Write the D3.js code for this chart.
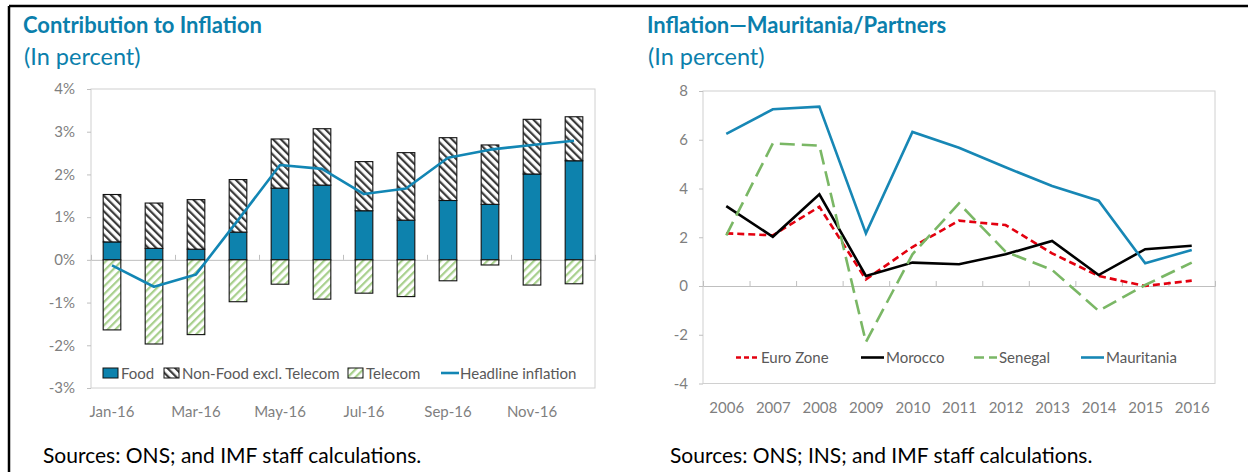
<!DOCTYPE html>
<html>
<head>
<meta charset="utf-8">
<script src="https://cdn.jsdelivr.net/npm/d3@7"></script>
<style>
  body { margin: 0; background: #fff; }
  svg { display: block; font-family: Lato, "Open Sans", sans-serif; }
</style>
</head>
<body>
<div id="chart"></div>
<script>
// left panel data (percent contributions)
var months = ["Jan-16","Feb-16","Mar-16","Apr-16","May-16","Jun-16","Jul-16","Aug-16","Sep-16","Oct-16","Nov-16","Dec-16"];
var monthLabels = ["Jan-16","Mar-16","May-16","Jul-16","Sep-16","Nov-16"];
var food     = [0.42, 0.27, 0.25, 0.65, 1.68, 1.75, 1.15, 0.93, 1.39, 1.30, 2.01, 2.32];
var nonFood  = [1.11, 1.06, 1.16, 1.23, 1.15, 1.32, 1.15, 1.58, 1.47, 1.39, 1.28, 1.03];
var telecom  = [-1.64, -1.97, -1.75, -0.98, -0.57, -0.92, -0.78, -0.86, -0.49, -0.12, -0.59, -0.56];
var headline = [-0.13, -0.63, -0.34, 0.93, 2.22, 2.13, 1.54, 1.67, 2.39, 2.58, 2.69, 2.79];
var leftTicks = [-3, -2, -1, 0, 1, 2, 3, 4];

// right panel data
var years = ["2006","2007","2008","2009","2010","2011","2012","2013","2014","2015","2016"];
var euroZone   = [2.16, 2.08, 3.25, 0.27, 1.60, 2.68, 2.50, 1.34, 0.41, 0.00, 0.22];
var morocco    = [3.28, 2.02, 3.76, 0.41, 0.96, 0.89, 1.30, 1.85, 0.45, 1.51, 1.65];
var senegal    = [2.08, 5.85, 5.76, -2.30, 1.30, 3.39, 1.41, 0.66, -1.02, 0.04, 0.96];
var mauritania = [6.24, 7.25, 7.36, 2.16, 6.32, 5.67, 4.87, 4.10, 3.50, 0.93, 1.48];
var rightTicks = [-4, -2, 0, 2, 4, 6, 8];

var blue = "#0d82ad", titleBlue = "#0b7fac", gridGray = "#d0d0d0", axisText = "#7f7f7f", legText = "#595959";

var svg = d3.select("#chart").append("svg")
  .attr("width", 1248)
  .attr("height", 472);

var defs = svg.append("defs");
function stripes(id, color, angle) {
  var p = defs.append("pattern")
    .attr("id", id)
    .attr("patternUnits", "userSpaceOnUse")
    .attr("width", 5.5).attr("height", 5.5)
    .attr("patternTransform", "rotate(" + angle + ")");
  p.append("rect").attr("width", 5.5).attr("height", 5.5).attr("fill", "#fff");
  p.append("rect").attr("width", 2.2).attr("height", 5.5).attr("fill", color);
}
stripes("hatchGray", "#3a3a3a", -45);
stripes("hatchGreen", "#a8d08d", 45);

// outer frame
svg.append("line").attr("x1", 9).attr("x2", 1248).attr("y1", 6).attr("y2", 6)
  .attr("stroke", "#000").attr("stroke-width", 2.5);
svg.append("line").attr("x1", 9).attr("x2", 9).attr("y1", 6).attr("y2", 472)
  .attr("stroke", "#000").attr("stroke-width", 2.5);

function titles(x, t, src) {
  svg.append("text").attr("x", x).attr("y", 33).text(t)
    .attr("font-size", 22).attr("font-weight", "bold").attr("fill", titleBlue);
  svg.append("text").attr("x", x + 1).attr("y", 65).text("(In percent)")
    .attr("font-size", 23.5).attr("fill", titleBlue);
  svg.append("text").attr("x", src[0]).attr("y", src[1]).text(src[2])
    .attr("font-size", 21).attr("fill", "#000");
}
titles(23, "Contribution to Inflation", [43, 463, "Sources: ONS; and IMF staff calculations."]);
titles(647, "Inflation\u2014Mauritania/Partners", [670, 463, "Sources: ONS; INS; and IMF staff calculations."]);

function styleAxis(g) {
  g.select(".domain").remove();
  g.selectAll(".tick line").attr("stroke", "#bfbfbf");
  g.selectAll(".tick text").attr("fill", axisText).attr("font-size", 15)
    .attr("font-family", "Lato, 'Open Sans', sans-serif");
}

// ---------- left chart ----------
var left = {l: 91, r: 595, t: 89, b: 388};

var xL = d3.scaleBand().domain(months).range([left.l, left.r])
  .paddingInner(0.58).paddingOuter(0.29);
var yL = d3.scaleLinear().domain([-3, 4]).range([left.b, left.t]);
var slotL = d3.scaleLinear().domain([0, months.length]).range([left.l, left.r]);

svg.append("rect")
  .attr("x", left.l).attr("y", left.t)
  .attr("width", left.r - left.l).attr("height", left.b - left.t)
  .attr("fill", "none").attr("stroke", gridGray);

svg.append("g")
  .attr("transform", "translate(" + left.l + ",0)")
  .call(d3.axisLeft(yL).tickValues(leftTicks).tickSize(4).tickPadding(12).tickFormat(function(d) { return d + "%"; }))
  .call(styleAxis);

svg.append("g")
  .attr("transform", "translate(0," + left.b + ")")
  .call(d3.axisBottom(xL).tickValues(monthLabels).tickSize(0).tickPadding(18))
  .call(styleAxis);

// zero line with small ticks every two months
svg.append("g")
  .attr("transform", "translate(0," + yL(0) + ")")
  .call(d3.axisBottom(slotL).tickValues([2, 4, 6, 8, 10]).tickSize(-5).tickFormat(""))
  .call(function(g) { g.select(".domain").attr("stroke", "#bfbfbf"); g.selectAll(".tick line").attr("stroke", "#bfbfbf"); });

var table = months.map(function(m, i) {
  return {month: m, food: food[i], nonFood: nonFood[i], telecom: telecom[i]};
});
var stack = d3.stack().keys(["food", "nonFood", "telecom"]).offset(d3.stackOffsetDiverging)(table);
var fills = {food: blue, nonFood: "url(#hatchGray)", telecom: "url(#hatchGreen)"};

svg.append("g").selectAll("g")
  .data(stack)
  .join("g")
    .attr("fill", function(s) { return fills[s.key]; })
  .selectAll("rect")
  .data(function(s) { return s; })
  .join("rect")
    .attr("x", function(d) { return xL(d.data.month); })
    .attr("width", xL.bandwidth())
    .attr("y", function(d) { return yL(Math.max(d[0], d[1])); })
    .attr("height", function(d) { return Math.abs(yL(d[0]) - yL(d[1])); })
    .attr("stroke", "#111")
    .attr("stroke-width", 1.1);

var lineL = d3.line()
  .x(function(d, i) { return xL(months[i]) + xL.bandwidth() / 2; })
  .y(function(d) { return yL(d); });

svg.append("path")
  .datum(headline)
  .attr("d", lineL)
  .attr("fill", "none")
  .attr("stroke", "#1286b4")
  .attr("stroke-width", 2.6)
  .attr("stroke-linejoin", "round");

// left legend
var legL = [
  {name: "Food", x: 103, type: "rect", fill: blue},
  {name: "Non-Food excl. Telecom", x: 164, type: "rect", fill: "url(#hatchGray)"},
  {name: "Telecom", x: 348, type: "rect", fill: "url(#hatchGreen)"},
  {name: "Headline inflation", x: 441, type: "line", fill: "#1286b4"}
];
var legLy = 373;
legL.forEach(function(d) {
  if (d.type === "rect") {
    svg.append("rect").attr("x", d.x).attr("y", legLy - 5).attr("width", 15).attr("height", 10)
      .attr("fill", d.fill).attr("stroke", "#111").attr("stroke-width", 1);
  } else {
    svg.append("line").attr("x1", d.x).attr("x2", d.x + 18).attr("y1", legLy).attr("y2", legLy)
      .attr("stroke", d.fill).attr("stroke-width", 2.6);
  }
  svg.append("text").attr("x", d.x + (d.type === "rect" ? 18 : 19)).attr("y", legLy + 5.5)
    .text(d.name).attr("font-size", 15).attr("fill", legText);
});

// ---------- right chart ----------
var right = {l: 703, r: 1215, t: 91, b: 383.5};

var xR = d3.scalePoint().domain(years).range([right.l, right.r]).padding(0.5);
var yR = d3.scaleLinear().domain([-4, 8]).range([right.b, right.t]);
var slotR = d3.scaleLinear().domain([0, years.length]).range([right.l, right.r]);

svg.append("rect")
  .attr("x", right.l).attr("y", right.t)
  .attr("width", right.r - right.l).attr("height", right.b - right.t)
  .attr("fill", "none").attr("stroke", gridGray);

svg.append("g")
  .attr("transform", "translate(" + right.l + ",0)")
  .call(d3.axisLeft(yR).tickValues(rightTicks).tickSize(4).tickPadding(11).tickFormat(function(d) { return String(d); }))
  .call(styleAxis);

svg.append("g")
  .attr("transform", "translate(0," + right.b + ")")
  .call(d3.axisBottom(xR).tickSize(0).tickPadding(19))
  .call(styleAxis);

svg.append("g")
  .attr("transform", "translate(0," + yR(0) + ")")
  .call(d3.axisBottom(slotR).tickValues(d3.range(1, years.length)).tickSize(-5).tickFormat(""))
  .call(function(g) { g.select(".domain").attr("stroke", "#bfbfbf"); g.selectAll(".tick line").attr("stroke", "#bfbfbf"); });

var series = [
  {name: "Euro Zone", values: euroZone, color: "#e3000f", dash: "7,4", lx: 736},
  {name: "Morocco", values: morocco, color: "#000000", dash: null, lx: 861},
  {name: "Senegal", values: senegal, color: "#7ab765", dash: "15,7", lx: 974},
  {name: "Mauritania", values: mauritania, color: "#1787b5", dash: null, lx: 1081}
];

var lineR = d3.line()
  .x(function(d, i) { return xR(years[i]); })
  .y(function(d) { return yR(d); });

svg.append("g").selectAll("path")
  .data(series)
  .join("path")
    .attr("d", function(s) { return lineR(s.values); })
    .attr("fill", "none")
    .attr("stroke", function(s) { return s.color; })
    .attr("stroke-width", 2.6)
    .attr("stroke-dasharray", function(s) { return s.dash; });

var legRy = 357.5;
series.forEach(function(s) {
  svg.append("line").attr("x1", s.lx).attr("x2", s.lx + 23).attr("y1", legRy).attr("y2", legRy)
    .attr("stroke", s.color).attr("stroke-width", 2.6)
    .attr("stroke-dasharray", s.dash === "15,7" ? "10,5" : (s.dash ? "5,3" : null));
  svg.append("text").attr("x", s.lx + 25).attr("y", legRy + 5.5)
    .text(s.name).attr("font-size", 15).attr("fill", legText);
});
</script>
</body>
</html>
